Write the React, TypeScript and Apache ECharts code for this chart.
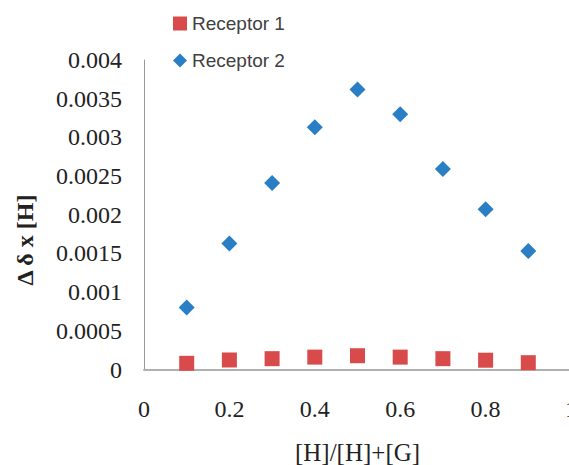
import React, { useEffect, useRef } from "react";
import * as echarts from "echarts";

const xValues = [0.1, 0.2, 0.3, 0.4, 0.5, 0.6, 0.7, 0.8, 0.9];
const receptor1 = [0.00008, 0.000123, 0.00014, 0.00016, 0.000178, 0.00016, 0.00014, 0.00012, 0.000088];
const receptor2 = [0.0008, 0.00163, 0.00241, 0.00313, 0.00362, 0.0033, 0.00259, 0.00207, 0.00153];
const seriesNames = ["Receptor 1", "Receptor 2"];
const xTitle = "[H]/[H]+[G]";
const yTitle = "Δ δ x [H]";

export default function App() {
  const ref = useRef<HTMLDivElement>(null);
  useEffect(() => {
    if (!ref.current) return;
    const chart = echarts.init(ref.current, undefined, { renderer: "svg" });
    const serif = "Liberation Serif";
    const labelRich = { s: { fontFamily: serif, fontSize: 24, color: "#222" } };
    chart.setOption({
      animation: false,
      backgroundColor: "#ffffff",
      textStyle: { fontFamily: serif },
      grid: { left: 144, top: 60, width: 427, bottom: 95.5, containLabel: false, outerBoundsMode: "none" },
      legend: {
        orient: "vertical",
        left: 168,
        top: 9,
        itemWidth: 14,
        itemHeight: 14,
        itemGap: 18,
        textStyle: { fontFamily: "Liberation Sans", fontSize: 19, color: "#404040" },
        data: seriesNames,
      },
      xAxis: {
        type: "value",
        min: 0,
        max: 1,
        interval: 0.2,
        splitLine: { show: false },
        axisTick: { show: false },
        axisLine: { lineStyle: { color: "#b0b0b0", width: 2 } },
        axisLabel: {
          fontFamily: serif,
          fontSize: 24,
          color: "#222",
          margin: 27,
          hideOverlap: false,
          formatter: (v: number) => `{s|${v}}`,
          rich: labelRich,
        },
        name: xTitle,
        nameLocation: "middle",
        nameGap: 70,
        nameTextStyle: { fontFamily: serif, fontSize: 25, color: "#222" },
      },
      yAxis: {
        type: "value",
        min: 0,
        max: 0.004,
        interval: 0.0005,
        splitLine: { show: false },
        axisTick: { show: false },
        axisLine: { show: true, lineStyle: { color: "#999999", width: 1 } },
        axisLabel: {
          fontFamily: serif,
          fontSize: 24,
          color: "#222",
          margin: 22,
          formatter: (v: number) => `{s|${parseFloat(v.toFixed(6))}}`,
          rich: labelRich,
        },
      },
      graphic: [
        {
          type: "text",
          x: 25,
          y: 240,
          rotation: Math.PI / 2,
          style: {
            text: yTitle,
            fontFamily: serif,
            fontSize: 24,
            fontWeight: "bold",
            fill: "#222",
            align: "center",
            verticalAlign: "middle",
          },
        },
      ],
      series: [
        {
          name: seriesNames[0],
          type: "scatter",
          symbol: "rect",
          symbolSize: 15,
          itemStyle: { color: "#d94b4b", opacity: 1 },
          data: xValues.map((x, i) => [x, receptor1[i]]),
        },
        {
          name: seriesNames[1],
          type: "scatter",
          symbol: "diamond",
          symbolSize: 16,
          itemStyle: { color: "#2a7fc4", opacity: 1 },
          data: xValues.map((x, i) => [x, receptor2[i]]),
        },
      ],
    });
    return () => chart.dispose();
  }, []);
  return <div ref={ref} style={{ width: 569, height: 465, position: "absolute", left: 0, top: 0 }} />;
}
